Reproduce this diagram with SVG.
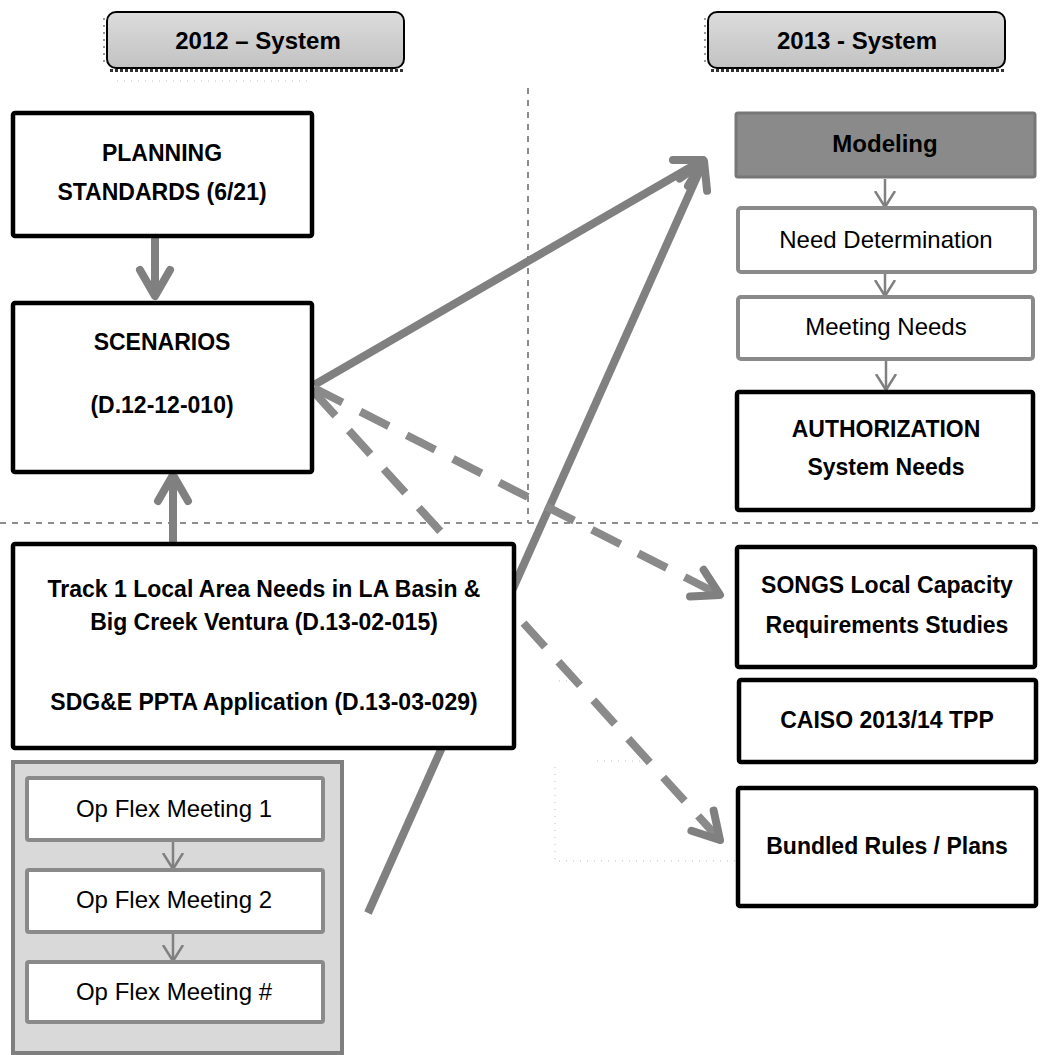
<svg xmlns="http://www.w3.org/2000/svg" width="1040" height="1055" viewBox="0 0 1040 1055">
  <defs>
    <style>
      .box { fill: #ffffff; stroke: #000000; stroke-width: 4.5; }
      .soft { fill: #ffffff; stroke: #8a8a8a; stroke-width: 4; }
      .hdr { fill: url(#hdrFill); stroke: #000000; stroke-width: 2; }
      .b { font-family: "Liberation Sans", Arial, sans-serif; font-weight: bold; font-size: 23px; fill: #000000; text-anchor: middle; }
      .r { font-family: "Liberation Sans", Arial, sans-serif; font-size: 24px; fill: #000000; text-anchor: middle; }
      .thick { fill: none; stroke: #808080; stroke-width: 8; }
      .dash { fill: none; stroke: #8a8a8a; stroke-width: 8; stroke-dasharray: 32 20; }
      .thin { fill: none; stroke: #808080; stroke-width: 2.5; }
      .grid { fill: none; stroke: #8c8c8c; stroke-width: 2; stroke-dasharray: 6 6; }
      .faint { fill: none; stroke: #bdbdbd; stroke-width: 1; stroke-dasharray: 1 6; }
    </style>
    <linearGradient id="hdrFill" x1="0" y1="0" x2="0" y2="1">
      <stop offset="0" stop-color="#dcdcdc"/>
      <stop offset="1" stop-color="#c2c2c2"/>
    </linearGradient>
    <marker id="head-lg" viewBox="-40 -25 50 50" markerWidth="50" markerHeight="50" refX="0" refY="0" orient="auto" markerUnits="userSpaceOnUse">
      <path d="M-26,-15 L0,0 L-26,15" fill="none" stroke="#808080" stroke-width="8" stroke-linecap="round" stroke-linejoin="round"/>
    </marker>
    <marker id="head-sm" viewBox="-16 -12 20 24" markerWidth="20" markerHeight="24" refX="0" refY="0" orient="auto" markerUnits="userSpaceOnUse">
      <path d="M-16,-10 L0,0 L-16,10" fill="none" stroke="#808080" stroke-width="2.5" stroke-linejoin="round"/>
    </marker>
  </defs>

  <rect width="1040" height="1055" fill="#ffffff"/>

  <!-- period divider lines -->
  <g id="dividers">
    <line class="grid" x1="528" y1="88" x2="528" y2="523"/>
    <line class="grid" x1="0" y1="523" x2="1040" y2="523"/>
    <path class="faint" d="M117,81 H312"/>
    <path class="faint" d="M555,767 V861 H737 M597,761 H643 M559,681 H575"/>
  </g>

  <!-- connectors (drawn first so the boxes sit on top of them) -->
  <g id="connectors">
    <line class="thick" x1="155" y1="238" x2="155" y2="296" marker-end="url(#head-lg)"/>
    <line class="thick" x1="173" y1="544" x2="173" y2="475" marker-end="url(#head-lg)"/>
    <line class="thick" x1="314" y1="385" x2="703" y2="160" marker-end="url(#head-lg)"/>
    <line class="thick" x1="368" y1="913" x2="704" y2="161" marker-end="url(#head-lg)" stroke-width="7"/>
    <line class="dash" x1="314" y1="388" x2="720" y2="595" marker-end="url(#head-lg)"/>
    <line class="dash" x1="314" y1="392" x2="720" y2="840" marker-end="url(#head-lg)"/>
    <line class="thin" x1="885" y1="179" x2="885" y2="207" marker-end="url(#head-sm)"/>
    <line class="thin" x1="885" y1="274" x2="885" y2="296" marker-end="url(#head-sm)"/>
    <line class="thin" x1="886" y1="361" x2="886" y2="390" marker-end="url(#head-sm)"/>
  </g>

  <!-- column headers -->
  <g id="header-2012">
    <line x1="104" y1="18" x2="104" y2="66" stroke="#9a9a9a" stroke-width="2" stroke-dasharray="2 5"/>
    <line x1="110" y1="70.5" x2="404" y2="70.5" stroke="#333333" stroke-width="3" stroke-dasharray="3 2"/>
    <rect class="hdr" x="107" y="12" width="297" height="56" rx="9"/>
    <text class="b" x="258" y="49" style="font-size:24px">2012 – System</text>
  </g>
  <g id="header-2013">
    <line x1="705" y1="18" x2="705" y2="66" stroke="#9a9a9a" stroke-width="2" stroke-dasharray="2 5"/>
    <line x1="711" y1="70.5" x2="1005" y2="70.5" stroke="#333333" stroke-width="3" stroke-dasharray="3 2"/>
    <rect class="hdr" x="708" y="12" width="297" height="56" rx="9"/>
    <text class="b" x="857" y="49" style="font-size:24px">2013 - System</text>
  </g>

  <!-- left column -->
  <g id="planning-standards">
    <rect class="box" x="13" y="113" width="299" height="123" rx="2"/>
    <text class="b" x="162" y="161">PLANNING</text>
    <text class="b" x="162" y="200">STANDARDS (6/21)</text>
  </g>
  <g id="scenarios">
    <rect class="box" x="13" y="303" width="299" height="169" rx="2"/>
    <text class="b" x="162" y="350">SCENARIOS</text>
    <text class="b" x="162" y="413">(D.12-12-010)</text>
  </g>
  <g id="track1">
    <rect class="box" x="13" y="544" width="501" height="204" rx="2"/>
    <text class="b" x="264" y="597">Track 1 Local Area Needs in LA Basin &amp;</text>
    <text class="b" x="264" y="630">Big Creek Ventura (D.13-02-015)</text>
    <text class="b" x="264" y="710">SDG&amp;E PPTA Application (D.13-03-029)</text>
  </g>
  <g id="op-flex">
    <rect x="13" y="762" width="329" height="291" fill="#d9d9d9" stroke="#7f7f7f" stroke-width="4"/>
    <g id="op-flex-1">
      <rect class="soft" x="27" y="778" width="296" height="62" rx="2"/>
      <text class="r" x="174" y="817">Op Flex Meeting 1</text>
    </g>
    <line class="thin" x1="173" y1="842" x2="173" y2="869" marker-end="url(#head-sm)"/>
    <g id="op-flex-2">
      <rect class="soft" x="27" y="870" width="296" height="62" rx="2"/>
      <text class="r" x="174" y="908">Op Flex Meeting 2</text>
    </g>
    <line class="thin" x1="173" y1="934" x2="173" y2="961" marker-end="url(#head-sm)"/>
    <g id="op-flex-n">
      <rect class="soft" x="27" y="962" width="296" height="60" rx="2"/>
      <text class="r" x="174" y="1000">Op Flex Meeting #</text>
    </g>
  </g>

  <!-- right column -->
  <g id="modeling">
    <rect x="736" y="113" width="299" height="64" rx="2" fill="#8a8a8a" stroke="#777777" stroke-width="3"/>
    <text class="b" x="885" y="152" style="font-size:24px">Modeling</text>
  </g>
  <g id="need-determination">
    <rect class="soft" x="738" y="208" width="297" height="64" rx="3"/>
    <text class="r" x="886" y="248">Need Determination</text>
  </g>
  <g id="meeting-needs">
    <rect class="soft" x="738" y="297" width="295" height="62" rx="3"/>
    <text class="r" x="886" y="335">Meeting Needs</text>
  </g>
  <g id="authorization">
    <rect class="box" x="737" y="392" width="296" height="118" rx="2"/>
    <text class="b" x="886" y="437">AUTHORIZATION</text>
    <text class="b" x="886" y="475">System Needs</text>
  </g>
  <g id="songs">
    <rect class="box" x="737" y="547" width="298" height="120" rx="2"/>
    <text class="b" x="887" y="593">SONGS Local Capacity</text>
    <text class="b" x="887" y="633">Requirements Studies</text>
  </g>
  <g id="caiso">
    <rect class="box" x="739" y="680" width="297" height="82" rx="2"/>
    <text class="b" x="887" y="728">CAISO 2013/14 TPP</text>
  </g>
  <g id="bundled">
    <rect class="box" x="738" y="788" width="298" height="118" rx="2"/>
    <text class="b" x="887" y="854">Bundled Rules / Plans</text>
  </g>
</svg>
